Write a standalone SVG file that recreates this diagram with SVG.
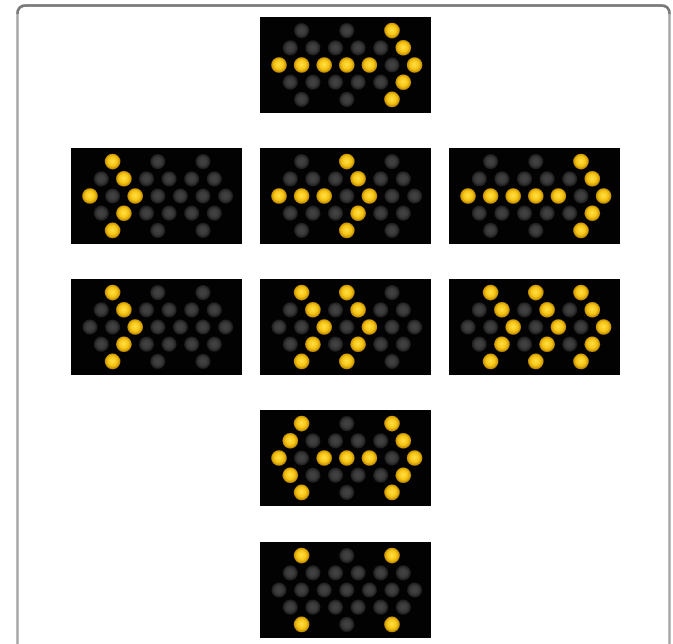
<svg xmlns="http://www.w3.org/2000/svg" xmlns:xlink="http://www.w3.org/1999/xlink" width="673" height="644" viewBox="0 0 673 644">
<style>
.panel{fill:#020202}
.off{fill:url(#gOff)}
.on{fill:url(#gOn)}
.frame{fill:#ffffff;stroke:#a8a8a8;stroke-width:2.5}
.frameTop{fill:none;stroke:#7a7a7a;stroke-width:2.5}
</style>
<defs>
<radialGradient id="gOff" cx="50%" cy="50%" r="50%">
<stop offset="0" stop-color="#444444"/>
<stop offset="0.55" stop-color="#3a3a3a"/>
<stop offset="1" stop-color="#1a1a1a"/>
</radialGradient>
<radialGradient id="gOn" cx="50%" cy="48%" r="50%">
<stop offset="0" stop-color="#ffe04a"/>
<stop offset="0.6" stop-color="#f6c413"/>
<stop offset="1" stop-color="#c08a00"/>
</radialGradient>
<g id="grid">
<rect class="panel" x="0" y="0" width="171" height="96"/>
<g class="off">
<circle cx="41.6" cy="13.6" r="7.6"/><circle cx="86.8" cy="13.6" r="7.6"/><circle cx="132" cy="13.6" r="7.6"/>
<circle cx="30.3" cy="30.8" r="7.6"/><circle cx="52.9" cy="30.8" r="7.6"/><circle cx="75.5" cy="30.8" r="7.6"/><circle cx="98.1" cy="30.8" r="7.6"/><circle cx="120.7" cy="30.8" r="7.6"/><circle cx="143.3" cy="30.8" r="7.6"/>
<circle cx="19" cy="48" r="7.6"/><circle cx="41.6" cy="48" r="7.6"/><circle cx="64.2" cy="48" r="7.6"/><circle cx="86.8" cy="48" r="7.6"/><circle cx="109.4" cy="48" r="7.6"/><circle cx="132" cy="48" r="7.6"/><circle cx="154.6" cy="48" r="7.6"/>
<circle cx="30.3" cy="65.2" r="7.6"/><circle cx="52.9" cy="65.2" r="7.6"/><circle cx="75.5" cy="65.2" r="7.6"/><circle cx="98.1" cy="65.2" r="7.6"/><circle cx="120.7" cy="65.2" r="7.6"/><circle cx="143.3" cy="65.2" r="7.6"/>
<circle cx="41.6" cy="82.4" r="7.6"/><circle cx="86.8" cy="82.4" r="7.6"/><circle cx="132" cy="82.4" r="7.6"/>
</g>
</g>
<g id="chev" class="on">
<circle cx="41.6" cy="13.6" r="7.8"/><circle cx="52.9" cy="30.8" r="7.8"/><circle cx="64.2" cy="48" r="7.8"/><circle cx="52.9" cy="65.2" r="7.8"/><circle cx="41.6" cy="82.4" r="7.8"/>
</g>
<g id="rightArrow">
<use xlink:href="#chev" href="#chev" x="90.4" y="0"/>
<g class="on"><circle cx="19" cy="48" r="7.8"/><circle cx="41.6" cy="48" r="7.8"/><circle cx="64.2" cy="48" r="7.8"/><circle cx="86.8" cy="48" r="7.8"/><circle cx="109.4" cy="48" r="7.8"/></g>
</g>
</defs>

<path class="frame" d="M17.5,660 V14 Q17.5,5.5 26,5.5 H661 Q669.5,5.5 669.5,14 V660 Z"/>
<path class="frameTop" d="M17.5,14 Q17.5,5.5 26,5.5 H661 Q669.5,5.5 669.5,14"/>

<g id="panel-right-arrow" transform="translate(260,17)">
<use xlink:href="#grid" href="#grid"/>
<use xlink:href="#rightArrow" href="#rightArrow"/>
</g>

<g id="panel-seq-1" transform="translate(71,148)">
<use xlink:href="#grid" href="#grid"/>
<use xlink:href="#chev" href="#chev"/>
<circle class="on" cx="19" cy="48" r="7.8"/>
</g>

<g id="panel-seq-2" transform="translate(260,148)">
<use xlink:href="#grid" href="#grid"/>
<use xlink:href="#chev" href="#chev" x="45.2"/>
<g class="on"><circle cx="19" cy="48" r="7.8"/><circle cx="41.6" cy="48" r="7.8"/><circle cx="64.2" cy="48" r="7.8"/></g>
</g>

<g id="panel-seq-3" transform="translate(449,148)">
<use xlink:href="#grid" href="#grid"/>
<use xlink:href="#rightArrow" href="#rightArrow"/>
</g>

<g id="panel-chev-1" transform="translate(71,279)">
<use xlink:href="#grid" href="#grid"/>
<use xlink:href="#chev" href="#chev"/>
</g>

<g id="panel-chev-2" transform="translate(260,279)">
<use xlink:href="#grid" href="#grid"/>
<use xlink:href="#chev" href="#chev"/>
<use xlink:href="#chev" href="#chev" x="45.2"/>
</g>

<g id="panel-chev-3" transform="translate(449,279)">
<use xlink:href="#grid" href="#grid"/>
<use xlink:href="#chev" href="#chev"/>
<use xlink:href="#chev" href="#chev" x="45.2"/>
<use xlink:href="#chev" href="#chev" x="90.4"/>
</g>

<g id="panel-double-arrow" transform="translate(260,410)">
<use xlink:href="#grid" href="#grid"/>
<g class="on">
<circle cx="41.6" cy="13.6" r="7.8"/><circle cx="132" cy="13.6" r="7.8"/>
<circle cx="30.3" cy="30.8" r="7.8"/><circle cx="143.3" cy="30.8" r="7.8"/>
<circle cx="19" cy="48" r="7.8"/><circle cx="64.2" cy="48" r="7.8"/><circle cx="86.8" cy="48" r="7.8"/><circle cx="109.4" cy="48" r="7.8"/><circle cx="154.6" cy="48" r="7.8"/>
<circle cx="30.3" cy="65.2" r="7.8"/><circle cx="143.3" cy="65.2" r="7.8"/>
<circle cx="41.6" cy="82.4" r="7.8"/><circle cx="132" cy="82.4" r="7.8"/>
</g>
</g>

<g id="panel-caution" transform="translate(260,542)">
<use xlink:href="#grid" href="#grid"/>
<g class="on">
<circle cx="41.6" cy="13.6" r="7.8"/><circle cx="132" cy="13.6" r="7.8"/>
<circle cx="41.6" cy="82.4" r="7.8"/><circle cx="132" cy="82.4" r="7.8"/>
</g>
</g>
</svg>
